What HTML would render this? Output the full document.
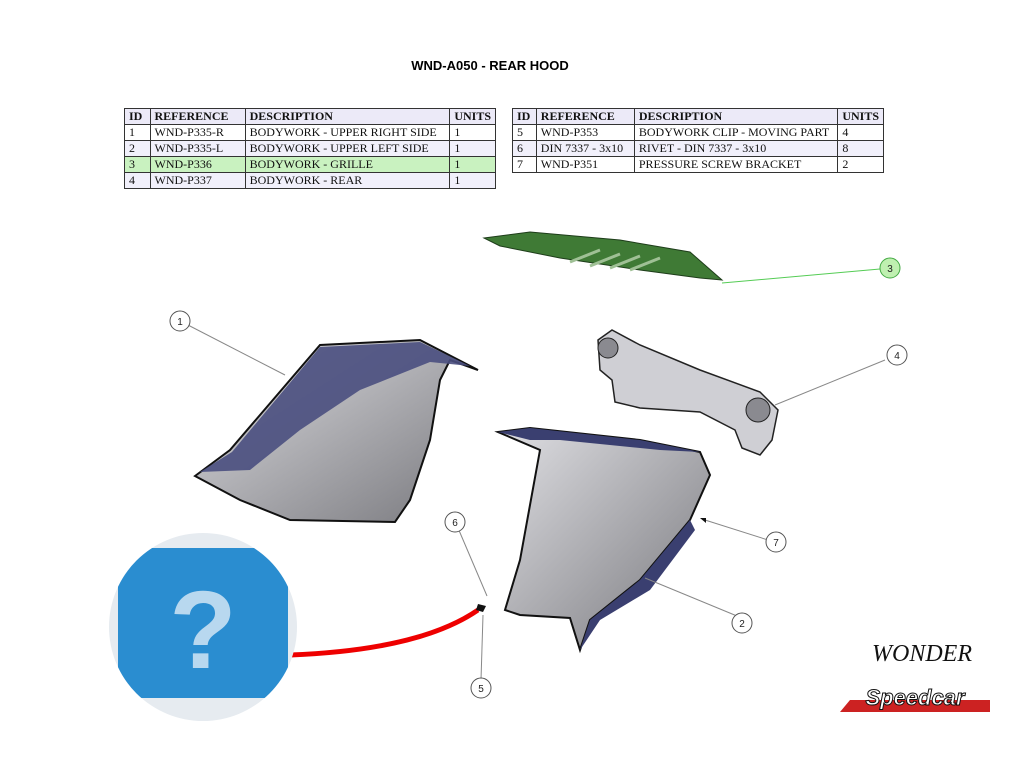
<!DOCTYPE html>
<html><head><meta charset="utf-8"><style>
body{margin:0;width:1024px;height:768px;background:#fff;position:relative;overflow:hidden;font-family:"Liberation Serif",serif}
.t{position:absolute;border-collapse:collapse;font-size:12px;color:#111}
.t td{border:1px solid #333;height:15px;padding:0 4px;line-height:15px;white-space:nowrap}
.t tr.h td{font-weight:bold;background:#eceaf8}
.t tr.a td{background:#f1f0fb}
.t tr.g td{background:#c9f2c0}
.title{position:absolute;left:0;width:980px;top:58px;text-align:center;font:bold 13px "Liberation Sans",sans-serif}
</style></head><body>
<div class="title">WND-A050 - REAR HOOD</div>
<table class="t" style="left:124px;top:108px;width:372px">
<tr class="h"><td style="width:17px">ID</td><td style="width:88px">REFERENCE</td><td style="width:197px">DESCRIPTION</td><td>UNITS</td></tr>
<tr><td>1</td><td>WND-P335-R</td><td>BODYWORK - UPPER RIGHT SIDE</td><td>1</td></tr>
<tr class="a"><td>2</td><td>WND-P335-L</td><td>BODYWORK - UPPER LEFT SIDE</td><td>1</td></tr>
<tr class="g"><td>3</td><td>WND-P336</td><td>BODYWORK - GRILLE</td><td>1</td></tr>
<tr class="a"><td>4</td><td>WND-P337</td><td>BODYWORK - REAR</td><td>1</td></tr>
</table>
<table class="t" style="left:512px;top:108px;width:372px">
<tr class="h"><td style="width:15px">ID</td><td style="width:90px">REFERENCE</td><td style="width:195px">DESCRIPTION</td><td>UNITS</td></tr>
<tr><td>5</td><td>WND-P353</td><td>BODYWORK CLIP - MOVING PART</td><td>4</td></tr>
<tr class="a"><td>6</td><td>DIN 7337 - 3x10</td><td>RIVET - DIN 7337 - 3x10</td><td>8</td></tr>
<tr><td>7</td><td>WND-P351</td><td>PRESSURE SCREW BRACKET</td><td>2</td></tr>
</table>
<svg width="1024" height="768" style="position:absolute;left:0;top:0">
<defs>
<linearGradient id="gr" x1="0" y1="0" x2="1" y2="1"><stop offset="0" stop-color="#e0e0e4"/><stop offset="1" stop-color="#77777c"/></linearGradient>
<clipPath id="cc"><circle cx="203" cy="627" r="94"/></clipPath>
</defs>
<path d="M484 238 L530 232 L620 240 L690 252 L722 280 L700 278 L640 270 L560 258 L500 246 Z" fill="#3f7a35" stroke="#1e3d1a"/>
<path d="M570 262 L600 250 M590 266 L620 254 M610 268 L640 256 M630 270 L660 258" stroke="#9fc095" stroke-width="3"/>
<path d="M195 476 L230 450 L320 345 L420 340 L478 370 L450 360 L440 380 L430 440 L410 500 L395 522 L290 520 L240 500 Z" fill="url(#gr)" stroke="#111" stroke-width="2"/>
<path d="M200 472 L232 452 L320 347 L420 342 L470 366 L430 362 L360 390 L300 430 L250 470 Z" fill="#4a4f80" opacity=".9"/>
<path d="M598 340 L612 330 L640 345 L700 370 L760 392 L778 410 L772 440 L760 455 L742 448 L735 430 L700 412 L640 408 L615 402 L612 380 L600 370 Z" fill="#cfcfd4" stroke="#222" stroke-width="1.5"/>
<circle cx="608" cy="348" r="10" fill="#8a8a90" stroke="#222"/><circle cx="758" cy="410" r="12" fill="#8a8a90" stroke="#222"/>
<path d="M498 432 L530 428 L640 440 L700 452 L710 475 L690 520 L640 580 L590 620 L580 650 L570 618 L520 615 L505 610 L520 560 L540 450 Z" fill="url(#gr)" stroke="#111" stroke-width="2"/>
<path d="M498 432 L530 428 L640 440 L700 452 L660 450 L560 440 L530 440 Z" fill="#3a3f70"/>
<path d="M690 520 L640 580 L590 620 L580 650 L600 620 L650 590 L695 530 Z" fill="#3a3f70"/>
<g stroke="#888" stroke-width="1" fill="none">
<line x1="186" y1="324" x2="285" y2="375"/>
<line x1="880" y1="269" x2="722" y2="283" stroke="#5c5"/>
<line x1="885" y1="360" x2="775" y2="405"/>
<line x1="458" y1="528" x2="487" y2="596"/>
<line x1="481" y1="680" x2="483" y2="615"/>
<line x1="768" y1="540" x2="705" y2="520"/>
<line x1="737" y1="616" x2="645" y2="578"/>
</g>
<path d="M290 655 Q420 650 478 610" stroke="#e00" stroke-width="5" fill="none"/>
<path d="M478 604 l8 2 l-3 6 l-7 -2z M700 518 l6 0 l0 5z" fill="#111"/>
<g font-family="Liberation Sans" font-size="10" text-anchor="middle" fill="#222">
<circle cx="180" cy="321" r="10" fill="#fff" stroke="#555"/><text x="180" y="325">1</text>
<circle cx="890" cy="268" r="10" fill="#bff0b0" stroke="#4a4"/><text x="890" y="272">3</text>
<circle cx="897" cy="355" r="10" fill="#fff" stroke="#555"/><text x="897" y="359">4</text>
<circle cx="455" cy="522" r="10" fill="#fff" stroke="#555"/><text x="455" y="526">6</text>
<circle cx="776" cy="542" r="10" fill="#fff" stroke="#555"/><text x="776" y="546">7</text>
<circle cx="742" cy="623" r="10" fill="#fff" stroke="#555"/><text x="742" y="627">2</text>
<circle cx="481" cy="688" r="10" fill="#fff" stroke="#555"/><text x="481" y="692">5</text>
</g>
<g clip-path="url(#cc)">
<rect x="100" y="530" width="210" height="200" fill="#e6ebf0"/>
<rect x="118" y="548" width="170" height="150" rx="6" fill="#2a8dd0"/>
<text x="203" y="668" font-family="Liberation Sans" font-size="110" font-weight="bold" fill="#b8d8ef" text-anchor="middle">?</text>
</g>
<text x="922" y="661" font-family="Liberation Serif" font-style="italic" font-size="24" fill="#111" text-anchor="middle">WONDER</text>
<path d="M840 712 L990 712 L990 700 L850 700 Z" fill="#c22"/>
<text x="915" y="705" font-family="Liberation Sans" font-style="italic" font-weight="bold" font-size="22" fill="#fff" stroke="#111" stroke-width="1" text-anchor="middle">Speedcar</text>
</svg>
</body></html>
